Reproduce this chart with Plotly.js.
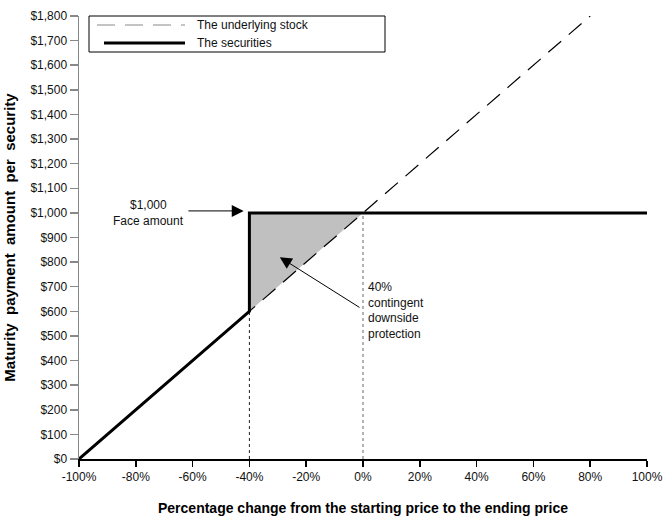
<!DOCTYPE html>
<html>
<head>
<meta charset="utf-8">
<script src="https://cdn.plot.ly/plotly-3.0.1.min.js"></script>
<style>
  html, body { margin: 0; padding: 0; background: #fff; }
  #chart { width: 671px; height: 522px; }
</style>
</head>
<body>
<div id="chart"></div>
<script>
// underlying stock: payment = 1000 * (1 + change)
const stockX = [-100, 80]
const stockY = [0, 1800]

// the securities
const securitiesX = [-100, -40, -40, 100]
const securitiesY = [0, 600, 1000, 1000]

// shaded protection zone
const protectX = [-40, -40, 0]
const protectY = [600, 1000, 1000]

// dotted guides
const guideBarrierX = [-40, -40]
const guideBarrierY = [0, 600]
const guideZeroX = [0, 0]
const guideZeroY = [0, 1000]

const xTicks = [-100, -80, -60, -40, -20, 0, 20, 40, 60, 80, 100]
const xTickText = xTicks.map(v => v + '%')
const yTicks = []
for (let v = 0; v <= 1800; v += 100) yTicks.push(v)
const yTickText = yTicks.map(v => '$' + v.toLocaleString('en-US'))

const FONT = 'Liberation Sans, Arial, sans-serif'

var data = [
    {
        x: protectX, y: protectY,
        mode: 'lines', fill: 'toself', fillcolor: '#c0c0c0',
        line: { width: 0 }, hoverinfo: 'skip', showlegend: false,
    },
    {
        x: guideBarrierX, y: guideBarrierY,
        mode: 'lines', line: { color: '#222', width: 1, dash: 'dot' },
        hoverinfo: 'skip', showlegend: false,
    },
    {
        x: guideZeroX, y: guideZeroY,
        mode: 'lines', line: { color: '#666', width: 1, dash: 'dot' },
        hoverinfo: 'skip', showlegend: false,
    },
    {
        name: 'The underlying stock',
        x: stockX, y: stockY,
        mode: 'lines', line: { color: '#000', width: 1.2, dash: '17px,10px' },
        showlegend: false,
    },
    {
        name: 'The securities',
        x: securitiesX, y: securitiesY,
        mode: 'lines', line: { color: '#000', width: 3 },
        showlegend: false,
    },
]

// legend drawn by hand so the sample lines are long like the original
const lx = v => (v - 79) / 568
const ly = v => (459 - v) / 443

var layout = {
    width: 671, height: 522,
    margin: { l: 79, r: 24, t: 16, b: 63 },
    paper_bgcolor: '#fff', plot_bgcolor: '#fff',
    font: { family: FONT, size: 12, color: '#111' },
    showlegend: false,
    xaxis: {
        range: [-100, 100],
        tickvals: xTicks, ticktext: xTickText,
        showgrid: false, zeroline: false,
        showline: true, linecolor: '#000', linewidth: 1.5,
        ticks: 'outside', ticklen: 6, tickcolor: '#000', tickwidth: 1.5,
        tickfont: { family: FONT, size: 12, color: '#111' },
        title: {
            text: '<b>Percentage change from the starting price to the ending price</b>',
            font: { family: FONT, size: 14, color: '#000' }, standoff: 20,
        },
        fixedrange: true,
    },
    yaxis: {
        range: [0, 1800],
        tickvals: yTicks, ticktext: yTickText,
        showgrid: false, zeroline: false,
        showline: true, linecolor: '#888', linewidth: 1.5,
        ticks: 'outside', ticklen: 8, tickcolor: '#888', tickwidth: 1.5,
        tickfont: { family: FONT, size: 12, color: '#111' },
        title: {
            text: '<b>Maturity  payment  amount  per  security</b>',
            font: { family: FONT, size: 15, color: '#000' }, standoff: 11,
        },
        fixedrange: true,
    },
    shapes: [
        { type: 'rect', xref: 'paper', yref: 'paper',
          x0: lx(89), x1: lx(385), y0: ly(52), y1: ly(16),
          line: { color: '#000', width: 1 }, fillcolor: '#fff' },
        { type: 'line', xref: 'paper', yref: 'paper',
          x0: lx(97), x1: lx(185), y0: ly(25), y1: ly(25),
          line: { color: '#888', width: 1, dash: '18px,10px' } },
        { type: 'line', xref: 'paper', yref: 'paper',
          x0: lx(104), x1: lx(185), y0: ly(43), y1: ly(43),
          line: { color: '#000', width: 3 } },
    ],
    annotations: [
        { xref: 'paper', yref: 'paper', x: lx(195), y: ly(25),
          xanchor: 'left', yanchor: 'middle', showarrow: false,
          text: 'The underlying stock', font: { size: 12 } },
        { xref: 'paper', yref: 'paper', x: lx(195), y: ly(43),
          xanchor: 'left', yanchor: 'middle', showarrow: false,
          text: 'The securities', font: { size: 12 } },
        // face amount
        { x: -75.6, y: 1033, xanchor: 'center', yanchor: 'middle',
          showarrow: false, text: '$1,000', font: { size: 12 } },
        { x: -75.6, y: 968, xanchor: 'center', yanchor: 'middle',
          showarrow: false, text: 'Face amount', font: { size: 12 } },
        { x: -42, y: 1008, ax: -62, ay: 1008, axref: 'x', ayref: 'y',
          text: '', showarrow: true, arrowhead: 2, arrowsize: 2.4,
          arrowwidth: 1, arrowcolor: '#000' },
        // protection
        { x: 1, y: 605, xanchor: 'left', yanchor: 'middle',
          showarrow: false, align: 'left',
          text: '40%<br>contingent<br>downside<br>protection',
          font: { size: 12 } },
        { x: -29.3, y: 820, ax: -0.7, ay: 612, axref: 'x', ayref: 'y',
          text: '', showarrow: true, arrowhead: 2, arrowsize: 2.4,
          arrowwidth: 1, arrowcolor: '#000' },
    ],
}

Plotly.newPlot('chart', data, layout, { displayModeBar: false, staticPlot: true })
</script>
</body>
</html>
